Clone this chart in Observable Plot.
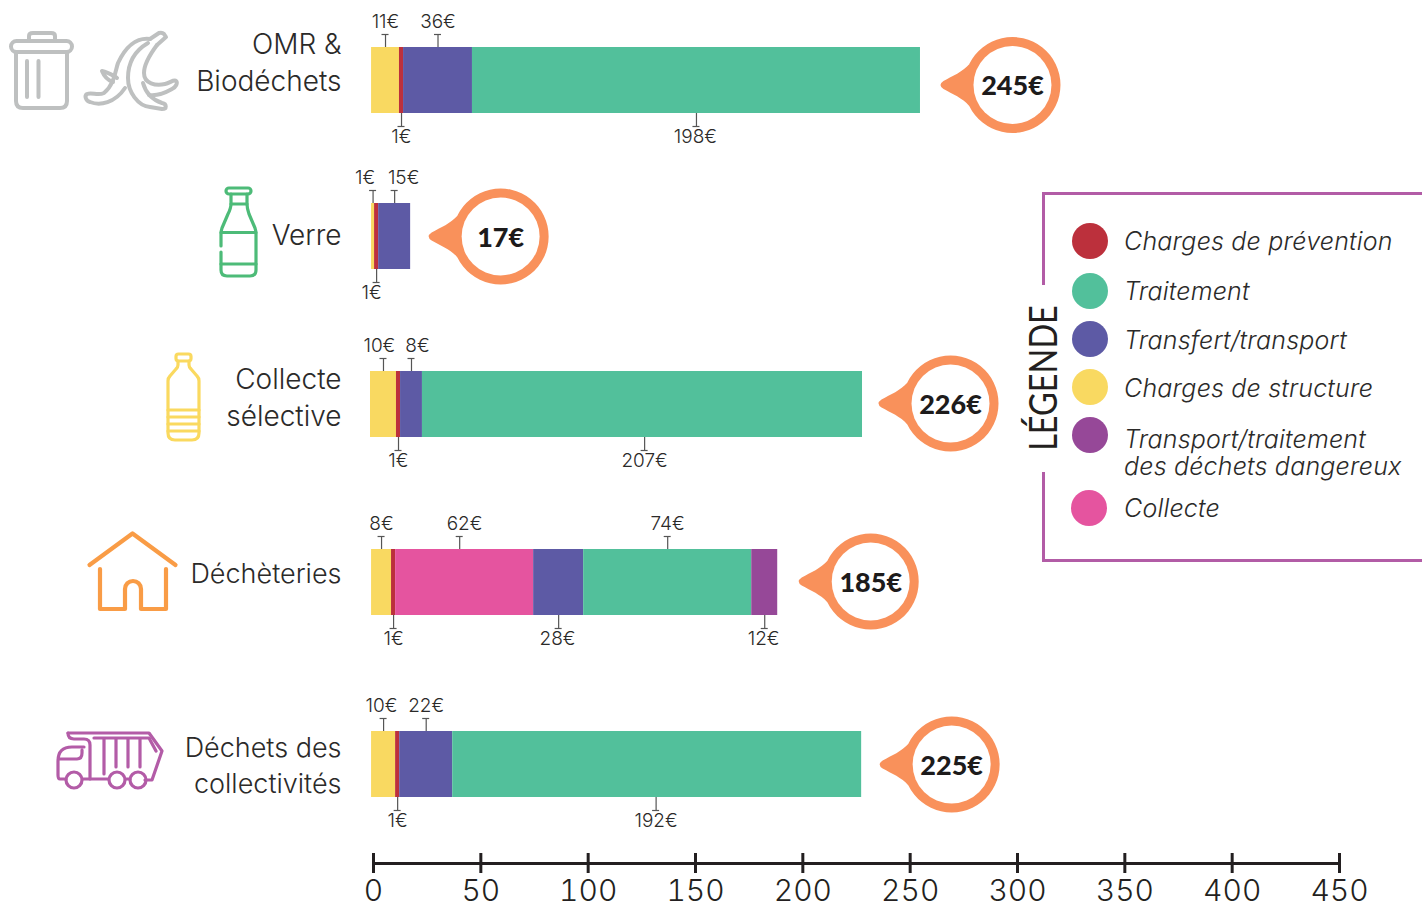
<!DOCTYPE html>
<html lang="fr"><head><meta charset="utf-8">
<script src="https://cdn.jsdelivr.net/npm/d3@7"></script>
<script src="https://cdn.jsdelivr.net/npm/@observablehq/plot@0.6"></script>
<style>
html,body{margin:0;padding:0;background:#fff;overflow:hidden}
#page{position:relative;width:1422px;height:908px;font-family:Inter,sans-serif;font-weight:300;color:#2b2a29}
#page svg{position:absolute;left:0;top:0;background:transparent}
.box{position:absolute;left:1042px;top:192px;width:380px;height:364px;border:3px solid #b25ca6;box-sizing:content-box;border-right:none}
.gap{position:absolute;left:1020px;top:285px;width:50px;height:187px;background:#fff}
.ttl{position:absolute;left:1042px;top:378px;transform:translate(-50%,-50%) rotate(-90deg) scaleX(.855);font:400 38px Lato,sans-serif;white-space:nowrap;color:#231f20}
.sw{position:absolute;width:36px;height:36px;border-radius:50%}
.lb{position:absolute;left:1124px;font-style:italic;font-weight:300;font-size:25px;line-height:27px;white-space:pre;letter-spacing:.2px;transform:translateY(-50%)}
</style></head><body><div id="page"></div>
<script>
// --- Data ---
const rows = ["OMR &\nBiodéchets", "Verre", "Collecte\nsélective", "Déchèteries", "Déchets des\ncollectivités"];
const categories = ["Charges de prévention", "Traitement", "Transfert/transport", "Charges de structure", "Transport/traitement\ndes déchets dangereux", "Collecte"];
const colors = ["#bc303c", "#52c09b", "#5d5aa5", "#f9d961", "#964898", "#e5549f"];
const [prev, trait, transf, struct, dang, coll] = categories;

const rowCategories = [
  [struct, prev, transf, trait],
  [struct, prev, transf],
  [struct, prev, transf, trait],
  [struct, prev, coll, transf, trait, dang],
  [struct, prev, transf, trait]
];
// drawn length of each segment, as read against the axis
const rowLengths = [
  [13.0, 1.9, 32.1, 208.7],
  [1.4, 1.9, 14.9],
  [12.1, 1.9, 10.2, 205.0],
  [9.3, 1.9, 64.3, 23.3, 78.3, 12.1],
  [11.2, 1.9, 24.7, 190.5]
];
const rowStarts = [-0.9, -0.9, -1.4, -0.9, -0.9];
// printed value of each segment
const rowValues = [
  [11, 1, 36, 198],
  [1, 1, 15],
  [10, 1, 8, 207],
  [8, 1, 62, 28, 74, 12],
  [10, 1, 22, 192]
];
const rowSides = [
  ["top", "bottom", "top", "bottom"],
  ["top", "bottom", "top"],
  ["top", "bottom", "top", "bottom"],
  ["top", "bottom", "top", "bottom", "top", "bottom"],
  ["top", "bottom", "top", "bottom"]
];
const totals = [245, 17, 226, 185, 225];
const axisTicks = [0, 50, 100, 150, 200, 250, 300, 350, 400, 450];

// --- Layout (not data) ---
const rowPixels = [80, 236, 404, 582, 764];
const bubblePixels = [84.5, 236, 403, 581, 764];
const bubbleGap = [92, 90, 88, 93, 90];
const barHalf = 33;
const axisPixel = 863;
const pxPerUnit = (1339 - 373) / 450;
const labelNudge = [[0, 0, 0, -0.5], [-3.7, -2.3, 4.2], [-1.9, 0, 2.8, 1], [0, 0, 0, -0.5, 0, -0.5], [-1, 0, 0, -0.5]];
const tickNudge = [[0, 0, 0, 0], [0, 0, 0], [0, 0, 0, 1], [0, 0, -2.3, 0, 0, 0], [0, 0, 0, -0.5]];
const rowLabelDy = [-20, -3, -9, -11, -1];
const rowLabelSize = [28, 28, 28, 27, 27];

// --- Tables ---
const segments = rows.flatMap((r, i) => {
  let end = rowStarts[i];
  return rowLengths[i].map((len, j) => {
    const x1 = end; end += len;
    const mid = (x1 + end) / 2;
    return {row: rowPixels[i], cat: rowCategories[i][j], x1, x2: end, tick: mid + tickNudge[i][j], lab: mid + labelNudge[i][j],
            text: rowValues[i][j] + "€", side: rowSides[i][j]};
  });
});
const ends = rows.map((r, i) => ({row: bubblePixels[i], x: rowStarts[i] + d3.sum(rowLengths[i]) + bubbleGap[i] / pxPerUnit, total: totals[i] + "€"}));
const tops = segments.filter(d => d.side === "top");
const bottoms = segments.filter(d => d.side === "bottom");

const drop = {draw(c, size) {
  const r = Math.sqrt(size / Math.PI);
  const k = r / 48;
  c.moveTo(-69 * k, -4 * k);
  c.bezierCurveTo(-60 * k, -9 * k, -50 * k, -13 * k, -43 * k, -21 * k);
  c.arc(0, 0, r, Math.PI + 0.45, Math.PI - 0.45 + 2 * Math.PI);
  c.bezierCurveTo(-50 * k, 13 * k, -60 * k, 9 * k, -69 * k, 4 * k);
  c.quadraticCurveTo(-75 * k, 0, -69 * k, -4 * k);
  c.closePath();
}};

const icons = () => d3.create("svg:g").attr("fill", "none").attr("stroke-linecap", "round").attr("stroke-linejoin", "round").html(`
<g stroke="#bec0c0" stroke-width="4">
<rect x="11" y="41" width="61" height="11" rx="5.5"/>
<path d="M29 40V36Q29 33 33 33H51Q55 33 55 36V40"/>
<path d="M16 53V101Q16 108 23 108H60Q67 108 67 101V53"/>
<path d="M27 61V97M38.500 61V97"/>
<path d="M150 39L159 33Q162 32 164 34L166 37L157 45"/>
<path d="M150 39C136 37 125 48 118 63C115 72 114 85 104 93C98 96 92 92 87 94C84 96 86 101 90 102C100 106 115 103 125 88"/>
<path d="M148 43C136 50 128 62 128 78C128 92 138 106 150 107L162 109C167 109 167 104 162 103C153 100 146 94 143 83"/>
<path d="M157 45C151 53 144 64 144 73C144 84 156 86 165 84C170 83 174 79 176 81C178 83 176 87 172 89C165 93 156 96 149 95"/>
<path d="M102 71C104 76 107 80 113 82M102 71C108 72 112 75 117 78"/>
</g>
<g stroke="#4dbb78" stroke-width="3.2">
<rect x="226" y="188" width="25" height="6" rx="3"/>
<path d="M231 194V204Q231 208 228 214L222 228Q221 231 221 234V246M221 252V270Q221 276 227 276H250Q256 276 256 270V234Q256 231 255 228L249 214Q247 208 247 204V194"/>
<path d="M231 204H247M221 232.500H256M221 264H256"/>
</g>
<g stroke="#fad95f" stroke-width="3.2">
<rect x="176" y="354" width="15" height="7" rx="2.500"/>
<path d="M178 361V365Q178 367 176 369L170 376Q168 378 168 381V433Q168 440 175 440H192Q199 440 199 433V381Q199 378 197 376L191 369Q189 367 189 365V361"/>
<path d="M168 410H199M168 417H199M168 424H199M168 431H199"/>
</g>
<g stroke="#f99c46" stroke-width="4.2">
<path d="M89.500 565L132.500 533.500L175.500 565"/>
<path d="M100 569V609H125V589A8 8 0 0 1 141 589V609H166V569"/>
</g>
<g stroke="#b35ca7" stroke-width="3.200">
<path d="M68 733H149L162 751L152 780H145"/>
<path d="M68 733Q68 739 74 739H84Q90 739 90 745V779"/>
<path d="M94 738H149L156 751M104 738V774M116 738V767M128 738V767M140 738V767"/>
<path d="M66 779H60Q58 779 58 775V761Q58 747 72 747H84M82 750V753Q82 759 77 759H58"/>
<path d="M83 779H108M126 779H130"/>
<circle cx="74" cy="780" r="8"/><circle cx="117" cy="780" r="8"/><circle cx="138" cy="780" r="8"/>
</g>`).node();

const ink = "#2b2a29", tickInk = "#555";
const chart = Plot.plot({
  width: 1422, height: 908,
  marginTop: 0, marginLeft: 0, marginRight: 0, marginBottom: 35,
  style: {fontFamily: "Inter, sans-serif", fontWeight: 300, background: "transparent", color: "#231f20"},
  x: {domain: [0, 450], range: [373, 1339], label: null},
  y: {domain: [0, 908], range: [0, 908], axis: null},
  color: {domain: categories, range: colors},
  marks: [
    icons,
    Plot.rect(segments, {x1: "x1", x2: "x2", y1: d => d.row - barHalf, y2: d => d.row + barHalf, fill: "cat"}),
    // leader lines and caps
    Plot.ruleX(tops, {x: "tick", y1: "row", y2: "row", insetTop: -46, insetBottom: 33, stroke: tickInk, strokeWidth: 1.2}),
    Plot.ruleX(bottoms, {x: "tick", y1: "row", y2: "row", insetTop: 33, insetBottom: -46, stroke: tickInk, strokeWidth: 1.2}),
    Plot.ruleY(tops, {y: "row", x1: "tick", x2: "tick", insetLeft: -3.5, insetRight: -3.5, dy: -46, stroke: tickInk, strokeWidth: 1.2}),
    Plot.ruleY(bottoms, {y: "row", x1: "tick", x2: "tick", insetLeft: -3.5, insetRight: -3.5, dy: 46, stroke: tickInk, strokeWidth: 1.2}),
    Plot.text(tops, {x: "lab", y: "row", text: "text", dy: -59, fontSize: 19, fill: ink}),
    Plot.text(bottoms, {x: "lab", y: "row", text: "text", dy: 56, fontSize: 19, fill: ink}),
    // row names
    ...rows.map((r, i) => Plot.text([r], {text: d => d, y: () => rowPixels[i], frameAnchor: "left", dx: 341, dy: rowLabelDy[i],
      textAnchor: "end", fontSize: rowLabelSize[i], lineHeight: 1.33, fill: ink})),
    // totals
    Plot.dot(ends, {x: "x", y: "row", r: 48, symbol: drop, fill: "#f9915b", stroke: "none"}),
    Plot.dot(ends, {x: "x", y: "row", r: 39, fill: "#fff", stroke: "none"}),
    Plot.text(ends, {x: "x", y: "row", dy: 1.5, text: "total", fontSize: 27, fontWeight: 900, fontFamily: "Lato, sans-serif", fill: "#1d1b1b"}),
    // axis
    Plot.ruleY([axisPixel], {x1: 0, x2: 450, stroke: "#231f20", strokeWidth: 3}),
    Plot.axisX(axisTicks, {anchor: "bottom", tickSize: -20, tickPadding: 26, strokeWidth: 3, stroke: "#231f20", fontSize: 30, label: null, fill: "#231f20", tickFormat: d => d})
  ]
});
const page = document.getElementById("page");
page.append(chart);

// --- Legend ---
const legendRows = [241, 291, 339, 387, 435, 508];
const legendText = [241, 291, 340, 388, 453, 508];
const add = (cls, css, txt) => {
  const e = document.createElement("div");
  e.className = cls; Object.assign(e.style, css);
  if (txt) e.textContent = txt;
  page.append(e);
};
add("box", {});
add("gap", {});
add("ttl", {}, "LÉGENDE");
categories.forEach((c, i) => {
  add("sw", {left: (i === 5 ? 1071 : 1072) + "px", top: legendRows[i] - 18 + "px", background: colors[i]});
  add("lb", {top: legendText[i] + "px"}, c);
});
</script></body></html>
